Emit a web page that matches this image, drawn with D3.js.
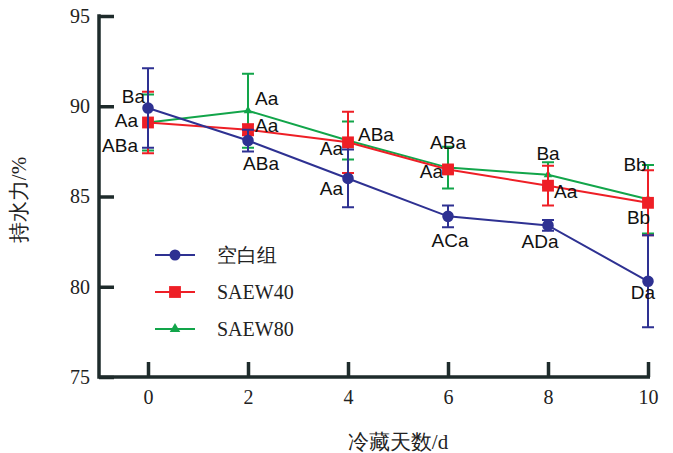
<!DOCTYPE html>
<html>
<head>
<meta charset="utf-8">
<script src="https://cdn.jsdelivr.net/npm/d3@7"></script>
<style>
  html, body { margin: 0; padding: 0; background: #fff; }
  svg { display: block; }
</style>
</head>
<body>
<svg id="chart" width="673" height="453"></svg>
<script>
// Storage days
const days = [0, 2, 4, 6, 8, 10];

// Water-holding capacity (%) per group, with standard deviations
const blankMean  = [89.9, 88.1, 86.0, 83.9, 83.4, 80.3];
const blankSd    = [2.2, 0.6, 1.6, 0.6, 0.3, 2.55];
const saew40Mean = [89.1, 88.7, 88.0, 86.5, 85.6, 84.65];
const saew40Sd   = [1.7, 0.3, 1.7, 0.2, 1.1, 1.8];
const saew80Mean = [89.1, 89.75, 88.1, 86.6, 86.2, 84.85];
const saew80Sd   = [1.55, 2.05, 1.05, 1.15, 0.7, 1.9];

// Significance letters
const blankLetters  = ["ABa", "ABa", "Aa", "ACa", "ADa", "Da"];
const saew40Letters = ["Aa", "Aa", "Aa", "Aa", "Aa", "Bb"];
const saew80Letters = ["Ba", "Aa", "ABa", "ABa", "Ba", "Bb"];

// Axis ticks and titles
const yTicks = [75, 80, 85, 90, 95];
const xTicks = [0, 2, 4, 6, 8, 10];
const seriesNames = ["空白组", "SAEW40", "SAEW80"];
const xTitle = "冷藏天数/d";
const yTitle = "持水力/%";

// Letter placement around each marker: [dx, dy, anchor]
const blankPlace = [[-10, 37, "end"], [13, 23, "middle"], [-5, 10, "end"], [2, 24, "middle"], [-8, 16, "middle"], [-5, 11, "middle"]];
const s40Place   = [[-10, -2, "end"], [7, -4, "start"], [-5, 6, "end"], [-5, 2, "end"], [6, 6, "start"], [-9.5, 15, "middle"]];
const s80Place   = [[-3, -26, "end"], [7, -12, "start"], [10, -6, "start"], [0, -25, "middle"], [0, -21, "middle"], [-13, -35, "middle"]];

const series = [
  { name: seriesNames[2], mean: saew80Mean, sd: saew80Sd, letters: saew80Letters, place: s80Place, color: "#12a54a", symbol: d3.symbolTriangle, size: 32, legendSize: 48 },
  { name: seriesNames[1], mean: saew40Mean, sd: saew40Sd, letters: saew40Letters, place: s40Place, color: "#ee1f26", symbol: d3.symbolSquare, size: 140, legendSize: 140 },
  { name: seriesNames[0], mean: blankMean,  sd: blankSd,  letters: blankLetters,  place: blankPlace, color: "#2e3192", symbol: d3.symbolCircle, size: 105, legendSize: 95 }
];

const svg = d3.select("#chart");
const axisColor = "#1e2b2b";
const serif = "'Liberation Serif', 'Times New Roman', serif";
const sans = "'Liberation Sans', Arial, sans-serif";

const x = d3.scaleLinear().domain([0, 10]).range([148, 648]);
const y = d3.scaleLinear().domain([75, 95]).range([377, 16]);
const axisX = 99;

// Axes
const gy = svg.append("g").attr("transform", `translate(${axisX},0)`)
  .call(d3.axisLeft(y).tickValues(yTicks).tickSizeInner(-15).tickSizeOuter(0).tickPadding(9));
const gx = svg.append("g").attr("transform", `translate(0,${y(75)})`)
  .call(d3.axisBottom(x).tickValues(xTicks).tickSizeInner(-15).tickSizeOuter(0).tickPadding(13));
[gx, gy].forEach(g => {
  g.select(".domain").remove();
  g.selectAll(".tick line").attr("stroke", axisColor).attr("stroke-width", 3.5);
  g.selectAll(".tick text").attr("fill", "#222").style("font-family", serif).style("font-size", "20px");
});
svg.append("path")
  .attr("d", `M${axisX},${y(95) - 1.75}V${y(75)}H${x(10) + 2}`)
  .attr("fill", "none").attr("stroke", axisColor).attr("stroke-width", 3.5)
  .attr("stroke-linejoin", "miter");

// Axis titles
svg.append("text").attr("x", 398).attr("y", 442).attr("dy", "0.35em")
  .attr("text-anchor", "middle").style("font-family", serif).style("font-size", "21px").attr("fill", "#222")
  .text(xTitle);
svg.append("text").attr("transform", "translate(19,200) rotate(-90)").attr("dy", "0.35em")
  .attr("text-anchor", "middle").style("font-family", serif).style("font-size", "21px").attr("fill", "#222")
  .text(yTitle);

const line = d3.line().x((d, i) => x(days[i])).y(d => y(d));
const capW = 6;

series.forEach(s => {
  const g = svg.append("g");
  g.append("path").datum(s.mean).attr("d", line)
    .attr("fill", "none").attr("stroke", s.color).attr("stroke-width", 2);
  // error bars
  g.selectAll(".eb").data(s.mean).join("path")
    .attr("d", (d, i) => {
      const cx = x(days[i]), t = y(d + s.sd[i]), b = y(d - s.sd[i]);
      return `M${cx},${t}V${b}M${cx - capW},${t}H${cx + capW}M${cx - capW},${b}H${cx + capW}`;
    })
    .attr("fill", "none").attr("stroke", s.color).attr("stroke-width", 2);
  // markers
  g.selectAll(".mk").data(s.mean).join("path")
    .attr("transform", (d, i) => `translate(${x(days[i])},${y(d)})`)
    .attr("d", d3.symbol().type(s.symbol).size(s.size))
    .attr("fill", s.color);
});

// Significance letters
series.forEach(s => {
  svg.append("g").selectAll("text").data(s.letters).join("text")
    .attr("x", (d, i) => x(days[i]) + s.place[i][0])
    .attr("y", (d, i) => y(s.mean[i]) + s.place[i][1])
    .attr("dy", "0.35em")
    .attr("text-anchor", (d, i) => s.place[i][2])
    .style("font-family", sans).style("font-size", "19px").attr("fill", "#111")
    .text(d => d);
});

// Legend
const legendRows = [series[2], series[1], series[0]];
const lg = svg.append("g");
legendRows.forEach((s, k) => {
  const ly = 255 + k * 37;
  lg.append("line").attr("x1", 155).attr("x2", 195).attr("y1", ly).attr("y2", ly)
    .attr("stroke", s.color).attr("stroke-width", 2);
  lg.append("path").attr("transform", `translate(175,${ly})`)
    .attr("d", d3.symbol().type(s.symbol).size(s.legendSize)).attr("fill", s.color);
  lg.append("text").attr("x", 217).attr("y", ly).attr("dy", "0.35em")
    .style("font-family", serif).style("font-size", "20px").attr("fill", "#222")
    .text(s.name);
});
</script>
</body>
</html>
